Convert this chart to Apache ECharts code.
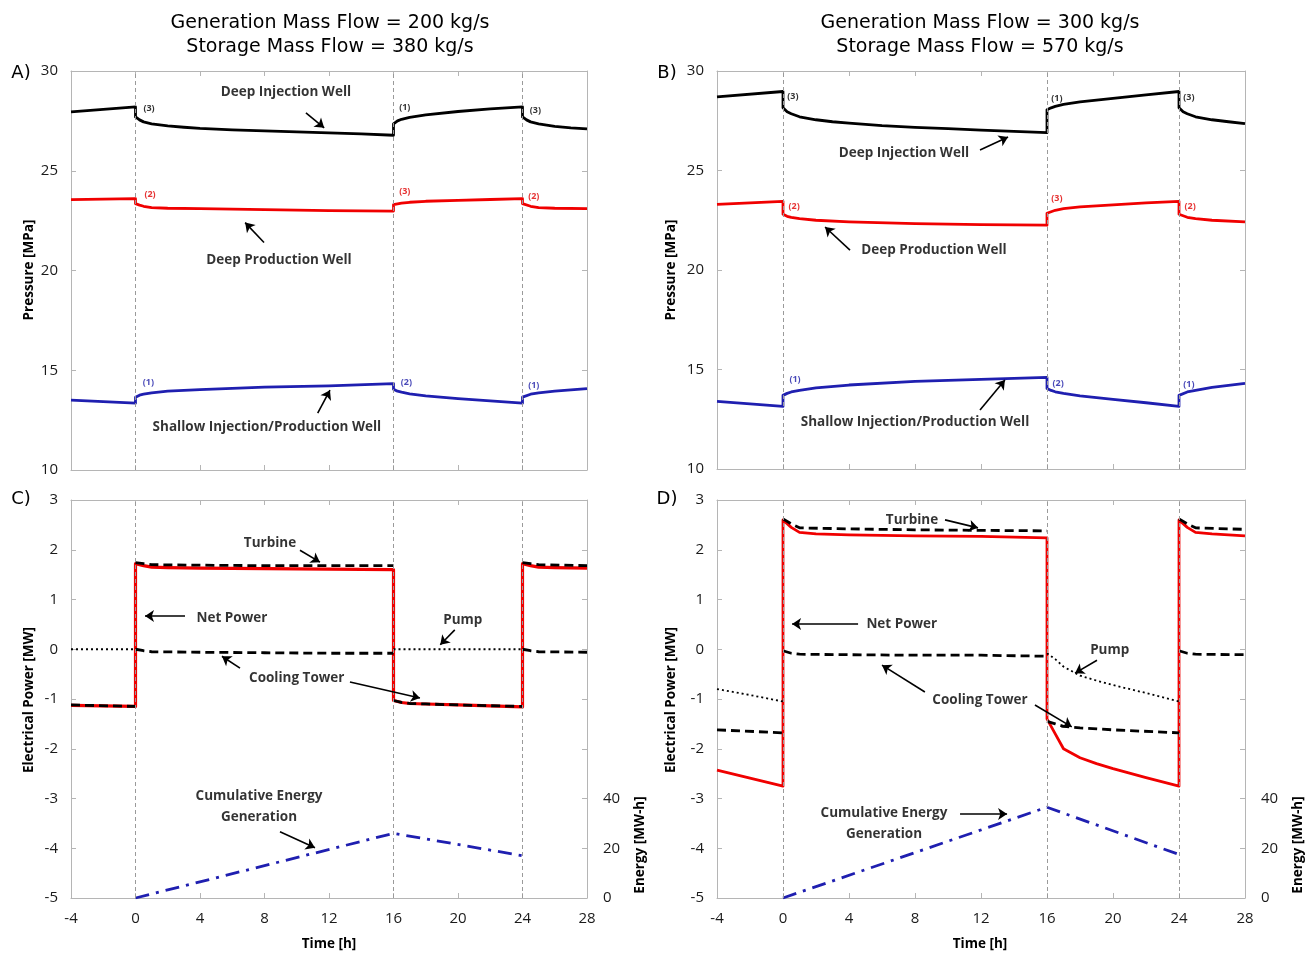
<!DOCTYPE html>
<html><head><meta charset="utf-8">
<script src="https://cdn.jsdelivr.net/npm/echarts@6/dist/echarts.min.js"></script>
<style>html,body{margin:0;padding:0;background:#fff}#c{width:1307px;height:954px}</style>
</head><body><div id="c"></div>
<script>
// ================= DATA =================
const timeTickLabels = [-4, 0, 4, 8, 12, 16, 20, 24, 28];
const pressureTickLabels = [10, 15, 20, 25, 30];
const powerTickLabels = [-5, -4, -3, -2, -1, 0, 1, 2, 3];
const energyTickLabels = [0, 20, 40];
const switchTimes = [0, 16, 24];

// Pressure panels (A: 200/380 kg/s, B: 300/570 kg/s)
const xInj  = [-4,0,0,0.25,0.5,1,2,3,4,6,8,10,12,14,16,16,16.25,16.5,17,18,20,22,24,24,24.25,24.5,25,26,27,28];
const A_inj = [27.95,28.2,27.7,27.55,27.45,27.35,27.25,27.18,27.12,27.05,27.0,26.95,26.9,26.85,26.78,27.35,27.5,27.58,27.68,27.8,27.97,28.1,28.2,27.7,27.55,27.45,27.35,27.22,27.15,27.1];
const B_inj = [28.7,28.97,28.15,27.95,27.85,27.7,27.55,27.45,27.38,27.25,27.17,27.1,27.03,26.97,26.9,28.05,28.15,28.22,28.32,28.45,28.62,28.8,28.97,28.15,27.95,27.85,27.7,27.55,27.45,27.35];

const xProd  = [-4,0,0,0.25,0.5,1,2,4,8,12,16,16,16.5,17,18,20,22,24,24,24.5,25,26,28];
const A_prod = [23.55,23.6,23.35,23.28,23.22,23.15,23.12,23.1,23.05,23.0,22.98,23.3,23.38,23.42,23.47,23.52,23.56,23.6,23.35,23.22,23.15,23.12,23.1];
const B_prod = [23.3,23.45,22.8,22.7,22.65,22.58,22.5,22.42,22.33,22.28,22.25,22.85,23.0,23.08,23.17,23.27,23.37,23.45,22.8,22.65,22.58,22.5,22.42];

const xShal  = [-4,0,0,0.25,0.5,1,2,4,8,12,16,16,16.25,16.5,17,18,20,22,24,24,24.5,25,26,28];
const A_shal = [13.5,13.35,13.65,13.75,13.8,13.87,13.95,14.03,14.15,14.22,14.33,14.05,13.95,13.9,13.82,13.72,13.58,13.46,13.35,13.65,13.8,13.87,13.95,14.08];
const B_shal = [13.4,13.15,13.7,13.8,13.87,13.95,14.08,14.22,14.4,14.5,14.6,14.05,13.95,13.88,13.8,13.68,13.5,13.33,13.15,13.7,13.87,13.95,14.1,14.3];

// Power panels (C, D)
const xNetC = [-4,0,0,0.5,1,2,4,8,12,16,16,16.5,17,18,20,22,24,24,24.5,25,26,28];
const C_net = [-1.13,-1.15,1.72,1.68,1.65,1.64,1.63,1.62,1.61,1.6,-1.03,-1.07,-1.09,-1.1,-1.12,-1.14,-1.16,1.72,1.68,1.65,1.64,1.63];
const xNetD = [-4,0,0,0.5,1,2,4,8,12,16,16,16.5,17,18,19,20,22,24,24,24.5,25,26,28];
const D_net = [-2.43,-2.75,2.6,2.45,2.35,2.32,2.3,2.28,2.27,2.24,-1.4,-1.7,-2.0,-2.18,-2.3,-2.4,-2.58,-2.75,2.6,2.45,2.35,2.32,2.28];

const xTurb  = [0,0.5,1,4,8,12,16,null,24,24.5,25,28];
const C_turb = [1.74,1.72,1.7,1.69,1.68,1.68,1.68,null,1.74,1.72,1.7,1.68];
const D_turb = [2.62,2.52,2.44,2.42,2.4,2.39,2.38,null,2.62,2.52,2.44,2.41];

const xCool  = [-4,0,null,0,0.5,1,4,8,12,16,null,16,16.5,17,18,20,24,null,24,24.5,25,28];
const C_cool = [-1.12,-1.15,null,0,-0.03,-0.05,-0.06,-0.07,-0.08,-0.08,null,-1.03,-1.07,-1.09,-1.1,-1.12,-1.15,null,0,-0.03,-0.05,-0.06];
const D_cool = [-1.62,-1.68,null,-0.03,-0.08,-0.1,-0.11,-0.12,-0.12,-0.14,null,-1.45,-1.5,-1.55,-1.58,-1.62,-1.68,null,-0.03,-0.08,-0.1,-0.11];

const xPumpC = [-4,0,null,16,24];
const C_pump = [0,0,null,0,0];
const xPumpD = [-4,-2,0,null,16,16.5,17,18,19,20,22,24];
const D_pump = [-0.8,-0.92,-1.05,null,-0.08,-0.2,-0.35,-0.53,-0.63,-0.72,-0.88,-1.05];

const xEnergy  = [0,16,24];
const C_energy = [0,26,17];
const D_energy = [0,36.5,17.5];

// ================= ANNOTATIONS (data coordinates) =================
const annA = [
  {t:'Deep Injection Well', x:9.33, y:28.95},
  {t:'Deep Production Well', x:8.9, y:20.5},
  {t:'Shallow Injection/Production Well', x:8.15, y:12.15},
  {t:'(3)', x:0.84, y:28.1, s:9}, {t:'(1)', x:16.7, y:28.15, s:9}, {t:'(3)', x:24.8, y:28.0, s:9},
  {t:'(2)', x:0.9, y:23.8, s:9, c:'#e00000'}, {t:'(3)', x:16.7, y:23.95, s:9, c:'#e00000'}, {t:'(2)', x:24.7, y:23.7, s:9, c:'#e00000'},
  {t:'(1)', x:0.8, y:14.4, s:9, c:'#1a1aa6'}, {t:'(2)', x:16.8, y:14.4, s:9, c:'#1a1aa6'}, {t:'(1)', x:24.7, y:14.25, s:9, c:'#1a1aa6'}
];
const arrA = [[10.57,27.9,11.7,27.15],[7.97,21.4,6.8,22.4],[11.3,12.85,12.06,14.0]];

const annB = [
  {t:'Deep Injection Well', x:7.33, y:25.88},
  {t:'Deep Production Well', x:9.15, y:21.0},
  {t:'Shallow Injection/Production Well', x:8.0, y:12.36},
  {t:'(3)', x:0.6, y:28.7, s:9}, {t:'(1)', x:16.6, y:28.6, s:9}, {t:'(3)', x:24.6, y:28.65, s:9},
  {t:'(2)', x:0.67, y:23.2, s:9, c:'#e00000'}, {t:'(3)', x:16.6, y:23.6, s:9, c:'#e00000'}, {t:'(2)', x:24.67, y:23.17, s:9, c:'#e00000'},
  {t:'(1)', x:0.73, y:14.5, s:9, c:'#1a1aa6'}, {t:'(2)', x:16.67, y:14.3, s:9, c:'#1a1aa6'}, {t:'(1)', x:24.6, y:14.27, s:9, c:'#1a1aa6'}
];
const arrB = [[11.94,26.03,13.64,26.68],[4.06,21.0,2.55,22.16],[11.94,12.96,13.45,14.47]];

const annC = [
  {t:'Turbine', x:8.34, y:2.14},
  {t:'Net Power', x:5.98, y:0.63},
  {t:'Pump', x:20.3, y:0.59},
  {t:'Cooling Tower', x:10.0, y:-0.58},
  {t:'Cumulative Energy\nGeneration', x:7.66, y:-3.17}
];
const arrC = [[10.2,1.99,11.44,1.75],[3.07,0.67,0.59,0.67],[19.8,0.39,18.9,0.09],[6.48,-0.38,5.36,-0.14],[13.3,-0.66,17.64,-0.98],[8.96,-3.67,11.13,-3.99]];

const annD = [
  {t:'Turbine', x:7.82, y:2.6},
  {t:'Net Power', x:7.2, y:0.51},
  {t:'Pump', x:19.8, y:-0.02},
  {t:'Cooling Tower', x:11.94, y:-1.02},
  {t:'Cumulative Energy\nGeneration', x:6.12, y:-3.51}
];
const arrD = [[9.82,2.6,11.82,2.44],[4.55,0.51,0.55,0.51],[19.03,-0.22,17.7,-0.48],[8.6,-0.86,6.0,-0.32],[15.27,-1.12,17.5,-1.56],[10.73,-3.31,13.58,-3.31]];

// ================= BUILD =================
const zip = (xs, ys) => xs.map((x, i) => (x === null || ys[i] === null) ? [xs[i-1], '-'] : [x, ys[i]]);
const GRAY = '#b5b5b5';
const TICKFONT = {color:'#1a1a1a', fontFamily:'Open Sans', fontSize:15};
const RED = '#f00000', BLUE = '#1f1fb0', BLACK = '#000';
const ANNFONT = 'Open Sans';

function xAx(g, pos, labels) {
  return {type:'value', gridIndex:g, position:pos, min:-4, max:28, interval:4,
    axisLine:{show:true, onZero:false, lineStyle:{color:GRAY, width:1}},
    axisTick:{show:true, inside:true, length:5, lineStyle:{color:GRAY}},
    axisLabel:Object.assign({show:labels, margin:13,
      formatter:v => timeTickLabels.includes(v) ? String(v) : ''}, TICKFONT),
    splitLine:{show:false}};
}
function yAx(g, pos, min, max, interval, labels, list, margin) {
  return {type:'value', gridIndex:g, position:pos, min, max, interval,
    axisLine:{show:true, onZero:false, lineStyle:{color:GRAY, width:1}},
    axisTick:{show:true, inside:true, length:5, lineStyle:{color:GRAY}},
    axisLabel:Object.assign({show:labels, margin:margin,
      formatter:v => list.includes(v) ? String(v) : ''}, TICKFONT),
    splitLine:{show:false}};
}
function line(g, xs, ys, color, width, type, yIdx) {
  return {type:'line', xAxisIndex:2*g, yAxisIndex:(yIdx === undefined ? 2*g : yIdx), z:3,
    data:zip(xs, ys), symbol:'none', showSymbol:false, smooth:false, connectNulls:false,
    silent:true, lineStyle:{color, width, type, cap:'butt', join:'round'}};
}
function vlines(g) {
  return {type:'line', xAxisIndex:2*g, yAxisIndex:2*g, z:1, data:[], silent:true,
    markLine:{silent:true, symbol:'none', animation:false, label:{show:false},
      lineStyle:{color:'#9a9a9a', width:1, type:[4,3]},
      data:switchTimes.map(t => ({xAxis:t}))}};
}
function ann(g, items, arrows) {
  return {type:'scatter', xAxisIndex:2*g, yAxisIndex:2*g, symbolSize:1, silent:true, z:10,
    itemStyle:{color:'rgba(0,0,0,0)'},
    data:items.map(it => ({value:[it.x, it.y], label:{show:true, position:'inside',
      formatter:it.t, color:it.c || '#000', fontSize:it.s || 13.5, fontWeight:'bold',
      fontFamily:ANNFONT, lineHeight:(it.s ? it.s + 4 : 21), align:'center'}})),
    markLine:{silent:true, symbol:['none','arrow'], symbolSize:9, animation:false,
      label:{show:false}, lineStyle:{color:'#000', width:1.6, type:'solid'},
      data:arrows.map(a => [{coord:[a[0], a[1]]}, {coord:[a[2], a[3]]}])}};
}

const series = [
  vlines(0),
  line(0, xInj, A_inj, BLACK, 2.8, 'solid'),
  line(0, xProd, A_prod, RED, 2.8, 'solid'),
  line(0, xShal, A_shal, BLUE, 2.8, 'solid'),
  ann(0, annA, arrA),

  vlines(1),
  line(1, xInj, B_inj, BLACK, 2.8, 'solid'),
  line(1, xProd, B_prod, RED, 2.8, 'solid'),
  line(1, xShal, B_shal, BLUE, 2.8, 'solid'),
  ann(1, annB, arrB),

  vlines(2),
  line(2, xNetC, C_net, RED, 3.2, 'solid'),
  line(2, xTurb, C_turb, BLACK, 2.8, [9,5]),
  line(2, xCool, C_cool, BLACK, 2.8, [9,5]),
  line(2, xPumpC, C_pump, BLACK, 1.8, [2,3]),
  line(2, xEnergy, C_energy, BLUE, 2.8, [14,7,3,7], 5),
  ann(2, annC, arrC),

  vlines(3),
  line(3, xNetD, D_net, RED, 2.8, 'solid'),
  line(3, xTurb, D_turb, BLACK, 2.8, [9,5]),
  line(3, xCool, D_cool, BLACK, 2.8, [9,5]),
  line(3, xPumpD, D_pump, BLACK, 1.8, [2,3]),
  line(3, xEnergy, D_energy, BLUE, 2.8, [14,7,3,7], 7),
  ann(3, annD, arrD)
];

function txt(t, x, y, font, rot) {
  return {type:'text', x, y, rotation:rot || 0, silent:true,
    style:{text:t, font, fill:'#000', textAlign:'center', textVerticalAlign:'middle', verticalAlign:'middle', align:'center'}};
}
const TF = '19px "DejaVu Sans"';
const PF = '18px "DejaVu Sans"';
const NF = 'bold 13.5px "Open Sans"';
const graphic = [
  txt('Generation Mass Flow = 200 kg/s', 330, 23, TF),
  txt('Storage Mass Flow = 380 kg/s', 330, 47, TF),
  txt('Generation Mass Flow = 300 kg/s', 980, 23, TF),
  txt('Storage Mass Flow = 570 kg/s', 980, 47, TF),
  txt('A)', 21, 73, PF), txt('B)', 667, 73, PF),
  txt('C)', 21, 499, PF), txt('D)', 667, 499, PF),
  txt('Pressure [MPa]', 29, 270, NF, Math.PI/2),
  txt('Pressure [MPa]', 671, 270, NF, Math.PI/2),
  txt('Electrical Power [MW]', 29, 700, NF, Math.PI/2),
  txt('Electrical Power [MW]', 671, 700, NF, Math.PI/2),
  txt('Energy [MW-h]', 640, 845, NF, Math.PI/2),
  txt('Energy [MW-h]', 1298, 845, NF, Math.PI/2),
  txt('Time [h]', 329, 944, NF),
  txt('Time [h]', 980, 944, NF)
];

const option = {
  animation:false,
  backgroundColor:'#fff',
  grid:[
    {left:71, top:71, width:516, height:399},
    {left:717, top:71, width:528, height:398},
    {left:71, top:500, width:516, height:398},
    {left:717, top:500, width:528, height:398}
  ],
  xAxis:[
    xAx(0,'bottom',false), xAx(0,'top',false),
    xAx(1,'bottom',false), xAx(1,'top',false),
    xAx(2,'bottom',true),  xAx(2,'top',false),
    xAx(3,'bottom',true),  xAx(3,'top',false)
  ],
  yAxis:[
    yAx(0,'left',10,30,5,true,pressureTickLabels,13), yAx(0,'right',10,30,5,false,pressureTickLabels,13),
    yAx(1,'left',10,30,5,true,pressureTickLabels,13), yAx(1,'right',10,30,5,false,pressureTickLabels,13),
    yAx(2,'left',-5,3,1,true,powerTickLabels,13), yAx(2,'right',0,160,20,true,energyTickLabels,16),
    yAx(3,'left',-5,3,1,true,powerTickLabels,13), yAx(3,'right',0,160,20,true,energyTickLabels,16)
  ],
  series,
  graphic
};
const chart = echarts.init(document.getElementById('c'), null, {renderer:'canvas'});
chart.setOption(option);
</script></body></html>
